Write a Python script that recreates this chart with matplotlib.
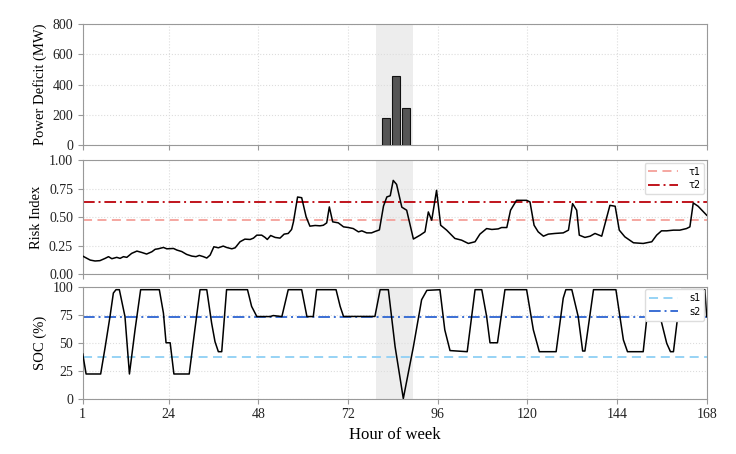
import matplotlib
matplotlib.use('Agg')
import matplotlib.pyplot as plt

# ----- data -----
HOUR_TICKS = [1, 24, 48, 72, 96, 120, 144, 168]
EVENT_START, EVENT_END = 79.5, 89.5

deficit_hour = [82.2, 84.9, 87.5]
deficit_mw = [180, 457, 245]

risk_hour = [1, 3, 4.3, 5.6, 7, 7.9, 8.8, 10.1, 11, 11.9, 12.8, 14.1, 15.5, 16.8, 18.1,
             19.5, 20.4, 21.2, 22.6, 23.5, 25.3, 26.2, 27.5, 28.8, 30.2, 31.3, 32.2, 33.3,
             34.2, 35.1, 36.1, 37.3, 38.6, 39.5, 40.9, 41.8, 43.1, 44.4, 45.8, 46.7, 47.6,
             48.9, 49.8, 50.4, 51.3, 52.5, 53.8, 54.9, 56, 56.9, 57.4, 58.5, 59.6, 60.8,
             61.8, 63.2, 64.5, 65.4, 66.3, 67, 67.9, 69.4, 70.8, 72.1, 73.4, 74.8, 75.7,
             77, 78.3, 79.2, 80.4, 81.5, 82.4, 83.3, 84.1, 85, 86.4, 87.7, 89.5, 91.3,
             92.6, 93.5, 94.4, 95.7, 96.8, 98.4, 100.6, 102.4, 104.2, 106, 107.3, 109.1,
             110.5, 112.2, 113.1, 114.5, 115.5, 117.1, 119.8, 120.7, 121.8, 122.9, 124.3,
             125.6, 127.4, 129.6, 131, 132.1, 133.2, 133.9, 135.4, 136.8, 138.1, 139.9,
             142.1, 143.5, 144.6, 146.1, 148.4, 151, 153.3, 154.6, 155.9, 157.3, 159.1,
             160.8, 162.6, 163.5, 164.4, 165.7, 168]
risk_index = [0.16, 0.125, 0.117, 0.12, 0.14, 0.155, 0.137, 0.149, 0.14, 0.155, 0.149, 0.184,
              0.204, 0.192, 0.178, 0.198, 0.22, 0.224, 0.236, 0.224, 0.227, 0.213, 0.2, 0.175,
              0.16, 0.155, 0.166, 0.155, 0.143, 0.169, 0.242, 0.233, 0.248, 0.236, 0.224,
              0.233, 0.286, 0.309, 0.306, 0.318, 0.344, 0.344, 0.324, 0.306, 0.341, 0.324,
              0.318, 0.353, 0.359, 0.394, 0.461, 0.679, 0.673, 0.504, 0.423, 0.429, 0.426,
              0.431, 0.452, 0.592, 0.461, 0.452, 0.417, 0.411, 0.402, 0.373, 0.382, 0.364,
              0.364, 0.376, 0.39, 0.6, 0.68, 0.69, 0.825, 0.79, 0.59, 0.563, 0.31, 0.344,
              0.373, 0.548, 0.475, 0.738, 0.431, 0.388, 0.315, 0.3, 0.271, 0.286, 0.353,
              0.402, 0.394, 0.399, 0.411, 0.411, 0.563, 0.65, 0.65, 0.636, 0.431, 0.373,
              0.335, 0.353, 0.359, 0.364, 0.388, 0.621, 0.563, 0.344, 0.324, 0.335, 0.359,
              0.335, 0.606, 0.598, 0.388, 0.329, 0.277, 0.271, 0.286, 0.344, 0.382, 0.382,
              0.388, 0.388, 0.402, 0.417, 0.627, 0.598, 0.519]

soc_hour = [1, 1.9, 5.8, 7, 8.3, 9.2, 9.9, 10.8, 12.3, 13.5, 15, 16.5, 21.5, 22.6, 23.3,
            24.4, 25.4, 29.5, 31, 32.4, 34.2, 35.5, 36.4, 37.3, 38.2, 39.5, 45.1, 46.2,
            47.6, 51.1, 52, 54.3, 56, 59.6, 61, 62.7, 63.6, 68.8, 69.9, 70.8, 79.2, 80.6,
            82.8, 84.6, 86.8, 89.5, 91.7, 93.1, 96.6, 97.9, 99.3, 103.9, 106, 107.8, 109.1,
            110, 112, 114, 119.8, 121.6, 123.2, 127.7, 129.6, 130.3, 131.9, 133.6, 134.8,
            135.4, 137.7, 143.7, 145.7, 146.8, 151, 152.8, 155.3, 157.3, 158.3, 159.1,
            160.4, 161.2, 167.5, 168]
soc_pct = [40, 22, 22, 46, 73.6, 94.6, 97.6, 97.6, 73.6, 22, 61.6, 97.6, 97.6, 76.6, 50,
           50, 22, 22, 61.6, 97.6, 97.6, 67.6, 51, 42, 42, 97.6, 97.6, 82.6, 73.5, 73.5,
           74.4, 73.5, 97.6, 97.6, 73.5, 73.5, 97.6, 97.6, 82.6, 73.6, 73.6, 97.6, 97.6,
           46.5, 0, 46.5, 88.6, 97, 97.6, 61.6, 43, 42, 97.6, 97.6, 73.6, 50, 50, 97.6,
           97.6, 61.6, 42, 42, 90, 97.6, 97.6, 73.6, 42.6, 42.6, 97.6, 97.6, 52.6, 42, 42,
           97.6, 76.6, 49.5, 42, 42, 78, 97.6, 97.6, 73.5]

TAU = {'τ1': 0.475, 'τ2': 0.633}
SOC_LIM = {'s1': 37, 's2': 73.5}

# ----- style -----
plt.rcParams.update({'font.family': 'serif',
                     'font.serif': ['Liberation Serif', 'DejaVu Serif'],
                     'font.size': 10,
                     'axes.edgecolor': '#999999',
                     'xtick.color': '#999999',
                     'ytick.color': '#999999',
                     'xtick.labelcolor': '#222222',
                     'ytick.labelcolor': '#222222'})

SHADE = '#e6e6e6'
GRID = dict(color='#dddddd', linestyle=':', linewidth=0.8)
LEGEND = dict(loc='upper right', prop={'family': 'DejaVu Sans', 'size': 7},
              handlelength=3.0, handletextpad=1.1, framealpha=1.0, edgecolor='#dddddd',
              borderpad=0.4, labelspacing=0.35, borderaxespad=0.25)

fig = plt.figure(figsize=(7.36, 4.54), dpi=100)
L, W = 0.1124, 0.8478
ax1 = fig.add_axes([L, 0.6806, W, 0.2659])
ax2 = fig.add_axes([L, 0.3958, W, 0.2507], sharex=ax1)
ax3 = fig.add_axes([L, 0.1222, W, 0.2456], sharex=ax1)

for ax in (ax1, ax2, ax3):
    ax.axvspan(EVENT_START, EVENT_END, color=SHADE, alpha=0.7, lw=0, zorder=0)
    ax.grid(True, **GRID)
    ax.set_axisbelow(True)
    ax.tick_params(length=3.5, width=0.8)

# top: power deficit
ax1.bar(deficit_hour, deficit_mw, width=2.0, color='#555555', edgecolor='#111111', lw=0.8, zorder=3)
ax1.set_ylim(0, 800)
ax1.set_yticks([0, 200, 400, 600, 800])
ax1.set_ylabel('Power Deficit (MW)', fontsize=10.5)
ax1.tick_params(labelbottom=False)

# middle: risk index
ax2.plot(risk_hour, risk_index, color='black', lw=1.1, zorder=3)
ax2.axhline(TAU['τ1'], color='#f4a09a', ls=(0, (5, 3)), lw=1.3, label='τ1', zorder=2)
ax2.axhline(TAU['τ2'], color='#c0141c', ls=(0, (6, 2, 1, 2)), lw=1.4, label='τ2', zorder=2)
ax2.set_ylim(0, 1)
ax2.set_yticks([0, 0.25, 0.5, 0.75, 1.0])
ax2.set_yticklabels(['0.00', '0.25', '0.50', '0.75', '1.00'])
ax2.set_ylabel('Risk Index', fontsize=10.5)
ax2.tick_params(labelbottom=False)
ax2.legend(**LEGEND)

# bottom: state of charge
ax3.plot(soc_hour, soc_pct, color='black', lw=1.1, zorder=3)
ax3.axhline(SOC_LIM['s1'], color='#8fd0f5', ls=(0, (5, 3)), lw=1.3, label='s1', zorder=2)
ax3.axhline(SOC_LIM['s2'], color='#3b6fd4', ls=(0, (6, 2, 1, 2)), lw=1.4, label='s2', zorder=2)
ax3.set_ylim(0, 100)
ax3.set_yticks([0, 25, 50, 75, 100])
ax3.set_ylabel('SOC (%)', fontsize=10.5)
ax3.set_xlabel('Hour of week', fontsize=12)
ax3.legend(**LEGEND)

ax3.set_xlim(1, 168)
ax3.set_xticks(HOUR_TICKS)

fig.savefig('out.png', dpi=100)
